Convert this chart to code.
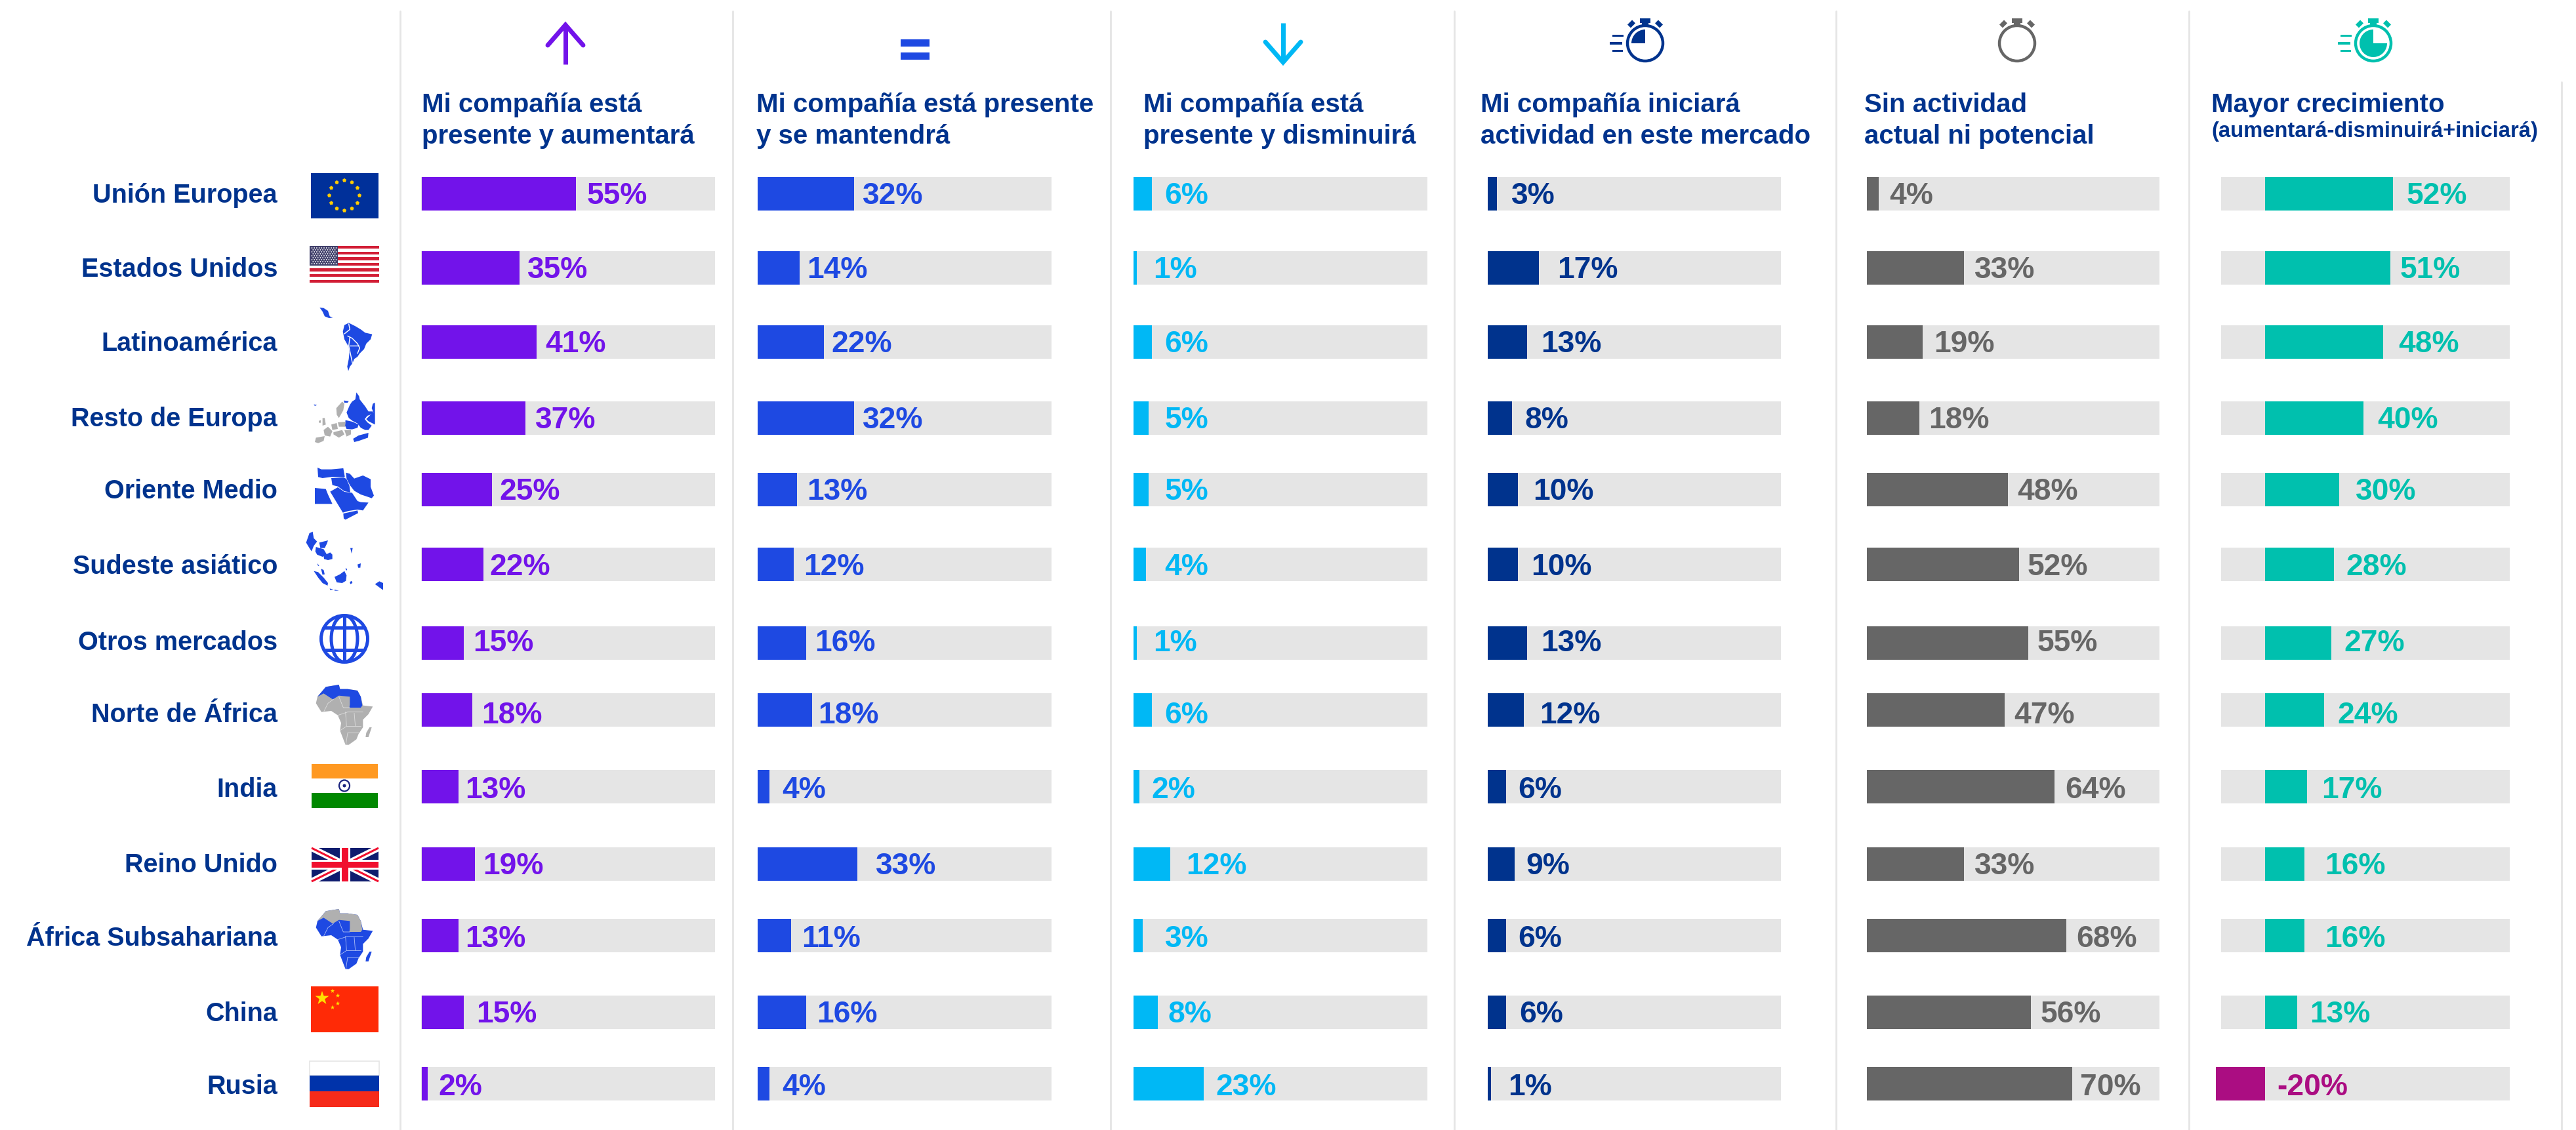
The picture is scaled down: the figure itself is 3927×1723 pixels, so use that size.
import numpy as np, pandas as pd, seaborn as sns, matplotlib
matplotlib.use("Agg")
import matplotlib.pyplot as plt
from matplotlib.patches import Rectangle, Polygon, Circle, Wedge, Ellipse, RegularPolygon
from matplotlib.lines import Line2D

# ---------- data ----------
regions = ["Unión Europea","Estados Unidos","Latinoamérica","Resto de Europa","Oriente Medio",
           "Sudeste asiático","Otros mercados","Norte de África","India","Reino Unido",
           "África Subsahariana","China","Rusia"]
aumentara  = [55,35,41,37,25,22,15,18,13,19,13,15,2]
mantendra  = [32,14,22,32,13,12,16,18,4,33,11,16,4]
disminuira = [6,1,6,5,5,4,1,6,2,12,3,8,23]
iniciara   = [3,17,13,8,10,10,13,12,6,9,6,6,1]
sin_activ  = [4,33,19,18,48,52,55,47,64,33,68,56,70]
crecim     = [52,51,48,40,30,28,27,24,17,16,16,13,-20]
headers = [["Mi compañía está","presente y aumentará"],
           ["Mi compañía está presente","y se mantendrá"],
           ["Mi compañía está","presente y disminuirá"],
           ["Mi compañía iniciará","actividad en este mercado"],
           ["Sin actividad","actual ni potencial"],
           ["Mayor crecimiento","(aumentará-disminuirá+iniciará)"]]

# ---------- layout (pixels) ----------
W, H = 3927, 1724
PURPLE, BLUE, CYAN, NAVY, GRAY, TEAL, MAGENTA = "#7213EA","#1E49E2","#00B8F5","#00338D","#666666","#00C0AE","#AB0D82"
TRACK, RULE = "#E5E5E5", "#E5E5E5"
bar_tops = [271,384,497,613,722,836,956,1058,1175,1293,1402,1519,1628]
row_pos = [t + 25.5 for t in bar_tops]
label_y = [295,408,521,637,746,861,977,1087,1201,1317,1428,1543,1654]
row_label_y = [295,408,521,636,746,861,977,1087,1201,1316,1428,1543,1654]
columns = [
    dict(vals=aumentara,  color=PURPLE, zero=643,  left=642,  right=1090, px=4.27, head_x=643),
    dict(vals=mantendra,  color=BLUE,   zero=1155, left=1155, right=1603, px=4.6,  head_x=1153),
    dict(vals=disminuira, color=CYAN,   zero=1728, left=1728, right=2176, px=4.65, head_x=1743),
    dict(vals=iniciara,   color=NAVY,   zero=2268, left=2268, right=2715, px=4.6,  head_x=2257),
    dict(vals=sin_activ,  color=GRAY,   zero=2846, left=2846, right=3292, px=4.47, head_x=2842),
    dict(vals=crecim,     color=TEAL,   zero=3453, left=3386, right=3826, px=3.75, head_x=3371),
]
label_lefts = [
    [357,321,332,326,304,298,288,293,283,294,283,290,267],
    [525,491,506,525,491,489,496,498,476,533,488,497,476],
    [709,702,709,709,709,709,702,709,701,722,709,711,740],
    [920,948,938,928,933,932,938,937,924,929,924,925,918],
    [1150,1202,1177,1174,1228,1234,1240,1226,1257,1202,1264,1242,1266],
    [1465,1461,1460,1447,1434,1428,1427,1423,1413,1415,1415,1406,1386],
]
sep_x = [610,1117,1693,2217,2799,3337]

sns.set_theme(style="white")
plt.rcParams["font.family"] = ["Liberation Sans","DejaVu Sans"]
fig = plt.figure(figsize=(W/100, H/100), dpi=100, facecolor="white")

def px_ax(l, r):
    return fig.add_axes([l/W, 0, (r-l)/W, 1])

# ---------- bars ----------
for c in columns:
    l, r = c["left"]-10, c["right"]+10
    ax = px_ax(l, r)
    ax.barh(row_pos, [(c["right"]-c["left"])/c["px"]]*13,
            left=(c["left"]-c["zero"])/c["px"], height=51, color=TRACK, zorder=0.5, lw=0)
    df = pd.DataFrame({"valor": c["vals"], "y": row_pos,
                       "signo": ["neg" if v < 0 else "pos" for v in c["vals"]]})
    sns.barplot(data=df, x="valor", y="y", hue="signo", orient="y", native_scale=True, dodge=False,
                palette={"pos": c["color"], "neg": MAGENTA}, width=0.5, saturation=1,
                errorbar=None, legend=False, linewidth=0, ax=ax)
    ax.set_xlim((l-c["zero"])/c["px"], (r-c["zero"])/c["px"])
    ax.set_ylim(H, 0)
    ax.axis("off")

# ---------- overlay in pixels ----------
ov = fig.add_axes([0, 0, 1, 1], zorder=5)
ov.set_xlim(0, W); ov.set_ylim(H, 0); ov.axis("off"); ov.patch.set_alpha(0)

for i, x in enumerate(sep_x):
    ov.add_line(Line2D([x, x], [18, H], color=RULE, lw=2.0))
ov.add_line(Line2D([3905, 3905], [126, H], color=RULE, lw=2.0))

VAL_FS, ROW_FS, HEAD_FS = 33.3, 28.5, 29
for name, y in zip(regions, row_label_y):
    ov.text(423, y+14, name, ha="right", va="baseline", color=NAVY, fontsize=ROW_FS, fontweight="bold")

for c, lefts in zip(columns, label_lefts):
    for v, lx, y in zip(c["vals"], lefts, label_y):
        col = MAGENTA if v < 0 else c["color"]
        ov.text(lx*3927/1568, y+16, f"{v}%", ha="left", va="baseline", color=col, fontsize=VAL_FS, fontweight="bold")

for c, (a, b) in zip(columns, headers):
    ov.text(c["head_x"], 171, a, ha="left", va="baseline", color=NAVY, fontsize=HEAD_FS, fontweight="bold")
    if b.startswith("("):
        ov.text(c["head_x"], 209, b, ha="left", va="baseline", color=NAVY, fontsize=23.6, fontweight="bold")
    else:
        ov.text(c["head_x"], 219, b, ha="left", va="baseline", color=NAVY, fontsize=HEAD_FS, fontweight="bold")

# ---------- header icons ----------
def rect(x0, y0, x1, y1, color, z=6):
    ov.add_patch(Rectangle((x0, y0), x1-x0, y1-y0, fc=color, ec="none", zorder=z))
def arrow(cx, tip, tail, head, color):
    ov.add_line(Line2D([cx, cx], [tip+4, tail], color=color, lw=5, solid_capstyle="butt"))
    ov.add_line(Line2D([cx-27, cx, cx+27], [head, tip+3, head] , color=color, lw=5, solid_joinstyle="miter"))
arrow(862, 36, 99, 70, PURPLE)
rect(1373, 61, 1417, 72, BLUE); rect(1373, 81, 1417, 92, BLUE)
ov.add_line(Line2D([1956, 1956], [36, 95], color=CYAN, lw=5, solid_capstyle="butt"))
ov.add_line(Line2D([1929, 1956, 1983], [65, 96, 65], color=CYAN, lw=5, solid_joinstyle="miter"))

def stopwatch(cx, cy, color, lines=True, wedge=None):
    ov.add_patch(Circle((cx, cy), 27, fc="white", ec=color, lw=3.2, zorder=6))
    rect(cx-8, 29, cx+8, 36, color, 7); rect(cx-5, 35, cx+5, 41, color, 7)
    for s in (-1, 1):
        ov.add_patch(Rectangle((cx+s*21-5, cy-29-4), 10, 7, angle=s*45, rotation_point="center",
                               fc=color, ec="none", zorder=7))
    if lines:
        rect(cx-50, cy-13, cx-33, cy-10, color, 7)
        rect(cx-54, cy-2, cx-35, cy+2, color, 7)
        rect(cx-50, cy+10, cx-34, cy+13, color, 7)
    if wedge:
        ov.add_patch(Wedge((cx, cy), wedge[2], wedge[0], wedge[1], fc=color, ec="none", zorder=7))
stopwatch(2508, 67, NAVY, True, (180, 270, 21))
stopwatch(3075, 67, GRAY, False)
stopwatch(3618, 67, TEAL, True, (0, 270, 21))
# image y axis points down, so wedge angles above are mirrored

# ---------- flags ----------
# EU
rect(474, 265, 577, 334, "#00309A")
for k in range(12):
    a = 2*np.pi*k/12
    ov.add_patch(RegularPolygon((525+23*np.sin(a), 299-23*np.cos(a)), 5, radius=3.2, fc="#FFCC00", ec="none", zorder=7, orientation=np.pi))
# USA
for k in range(13):
    y0 = 376 + k*56/13
    rect(472, y0, 578, y0+56/13, "#D21E36" if k % 2 == 0 else "white")
rect(472, 376, 515, 406, "#41406B", 7)
for r_ in range(9):
    for q in range(11 if r_ % 2 == 0 else 10):
        ov.add_patch(Circle((475.5 + q*3.7 + (0 if r_ % 2 == 0 else 1.8), 379 + r_*3), 0.9, fc="white", ec="none", zorder=8))
# India
rect(475, 1166, 576, 1188, "#FF9922"); rect(475, 1210, 576, 1233, "#008800")
ov.add_patch(Ellipse((525, 1199), 16, 17, fc="white", ec="#1A237E", lw=1.6, zorder=7))
ov.add_patch(Circle((525, 1199), 2.5, fc="#1A237E", ec="none", zorder=7))
# UK
rect(475, 1294, 577, 1345, "#0F1C6E")
ov.plot([475, 577], [1294, 1345], color="white", lw=7, zorder=7, solid_capstyle="butt")
ov.plot([475, 577], [1345, 1294], color="white", lw=7, zorder=7, solid_capstyle="butt")
ov.plot([475, 577], [1294, 1345], color="#F00F2E", lw=2.2, zorder=7, solid_capstyle="butt")
ov.plot([475, 577], [1345, 1294], color="#F00F2E", lw=2.2, zorder=7, solid_capstyle="butt")
rect(518, 1294, 534, 1345, "white", 8); rect(475, 1312, 577, 1327, "white", 8)
rect(521, 1294, 531, 1345, "#F00F2E", 9); rect(475, 1315, 577, 1324, "#F00F2E", 9)
# China
rect(474, 1505, 577, 1575, "#FF2A06")
def star(x, y, r_):
    ov.add_patch(Polygon([(x + (r_ if k % 2 == 0 else r_*0.4)*np.sin(k*np.pi/5),
                           y - (r_ if k % 2 == 0 else r_*0.4)*np.cos(k*np.pi/5)) for k in range(10)],
                         fc="#FFE000", ec="none", zorder=7))
star(491, 1523, 11)
for sx, sy in [(507, 1512), (515, 1519), (515, 1531), (507, 1537)]:
    star(sx, sy, 3.5)
# Russia
ov.add_patch(Rectangle((472, 1619), 106, 22, fc="white", ec="#E5E5E5", lw=1.2, zorder=6))
rect(472, 1641, 578, 1665, "#0033AA"); rect(472, 1665, 578, 1689, "#F62B1A")

# ---------- map pictograms (rough silhouettes) ----------
def shape(ox, oy, pts, color, dy=0):
    ov.add_patch(Polygon([(ox+a/3, oy+b/3+dy) for a, b in pts], fc=color, ec="none", zorder=6))
def border(ox, oy, pts, dy=0, lw=1.4, color="white"):
    ov.plot([ox+a/3 for a, b in pts], [oy+b/3+dy for a, b in pts], color=color, lw=lw, zorder=7)

MAPGRAY = "#B0B0B0"
# Latin America
O = (450, 460)
shape(*O, [(112,30),(130,32),(150,45),(158,70),(172,76),(155,78),(135,70),(125,48)], BLUE)
shape(*O, [(225,110),(245,100),(275,115),(300,130),(320,145),(352,152),(345,175),(325,195),(315,220),(295,240),(285,255),
           (270,265),(262,285),(250,300),(243,320),(238,300),(245,265),(248,235),(245,210),(225,175),(218,140)], BLUE)
border(*O, [(225,150),(250,130),(245,105)], lw=1.0); border(*O, [(240,160),(260,170),(285,195),(295,215),(285,240)], lw=1.0)
border(*O, [(250,205),(275,205),(290,205)], lw=1.0); border(*O, [(250,165),(245,205),(262,285)], lw=1.0)
# Rest of Europe
shape(*O, [(280,418),(292,435),(295,450),(320,482),(335,505),(355,505),(358,515),(330,525),(318,540),(330,555),(350,570),(335,590),
           (320,590),(300,580),(285,560),(262,548),(245,535),(235,510),(250,475),(260,460),(275,450)], BLUE)
shape(*O, [(355,470),(365,465),(365,565),(335,550),(325,540),(345,520),(358,510),(350,490)], BLUE)
shape(*O, [(230,545),(262,552),(290,565),(285,580),(260,587),(235,585),(228,570)], BLUE)
shape(*O, [(265,630),(290,615),(335,603),(333,625),(290,640),(270,645)], BLUE)
shape(*O, [(85,473),(100,475),(90,480)], BLUE)
shape(*O, [(222,455),(245,458),(240,465),(225,465)], BLUE)
for p in [[(215,460),(225,470),(220,500),(200,535),(190,520),(188,490)],
          [(130,590),(150,575),(170,595),(160,620),(135,615)],
          [(95,625),(135,618),(130,640),(105,650),(90,645)],
          [(165,565),(190,558),(195,585),(170,590)],
          [(195,555),(230,552),(228,575),(200,575)],
          [(175,600),(215,590),(225,610),(200,625),(175,610)],
          [(225,590),(255,590),(255,610),(235,620)],
          [(125,535),(135,535),(140,565),(125,570)],
          [(108,548),(118,545),(116,558),(108,556)]]:
    shape(*O, p, MAPGRAY)
# Middle East
O = (450, 690)
for p in [[(102,72),(120,80),(165,80),(220,75),(227,114),(170,114),(125,120),(105,115)],
          [(232,95),(250,100),(270,122),(310,108),(345,125),(345,160),(360,200),(350,212),(330,205),(300,195),(270,178),(250,152),(235,122)],
          [(165,120),(222,116),(235,125),(248,155),(252,185),(225,180),(195,158),(170,152)],
          [(90,165),(140,170),(150,195),(170,238),(90,238)],
          [(160,182),(195,162),(225,183),(260,187),(285,225),(300,230),(335,232),(310,268),(285,264),(245,270),(218,278),(195,240)],
          [(220,282),(285,268),(288,280),(230,310),(222,305)]]:
    shape(*O, p, BLUE)
# South-East Asia
for p in [[(50,415),(65,372),(80,365),(85,395),(100,410),(85,430),(75,455),(65,440)],
          [(110,415),(150,405),(145,420),(135,440),(115,440)],
          [(95,435),(130,445),(145,470),(125,480),(100,470),(92,455)],
          [(130,475),(160,460),(170,470),(170,490),(150,495),(132,490)],
          [(252,440),(263,440),(258,465)], [(285,515),(300,510),(298,530),(288,530)],
          [(100,510),(110,520),(105,522)], [(118,535),(130,540),(135,560),(125,562)],
          [(85,545),(105,550),(130,575),(150,600),(148,612),(125,600),(105,575)],
          [(180,572),(205,560),(225,545),(235,565),(232,590),(215,600),(190,597)],
          [(158,625),(175,630),(160,632)], [(180,630),(200,635),(180,635)],
          [(365,605),(385,592),(402,600),(402,632),(385,620)],
          [(250,595),(258,590),(262,600),(252,605)], [(228,535),(237,535),(237,542)]]:
    shape(*O, p, BLUE)
# Globe
gc = (525, 975)
ov.add_patch(Circle(gc, 35.5, fc="none", ec=BLUE, lw=3.6, zorder=6))
clip = Circle(gc, 37, transform=ov.transData)
for art in [ov.add_patch(Ellipse(gc, 40, 71, fc="none", ec=BLUE, lw=3.6, zorder=6)),
            ov.add_patch(Rectangle((gc[0]-2.5, gc[1]-37), 5, 74, fc=BLUE, ec="none", zorder=6)),
            ov.add_patch(Rectangle((gc[0]-37, gc[1]-17-2.5), 74, 5, fc=BLUE, ec="none", zorder=6)),
            ov.add_patch(Rectangle((gc[0]-37, gc[1]+17-2.5), 74, 5, fc=BLUE, ec="none", zorder=6))]:
    art.set_clip_path(clip)
# Africa
AFR = [(102,100),(140,55),(200,45),(205,65),(240,65),(285,72),(300,100),(310,140),(355,145),(335,180),(310,205),(310,240),
       (290,270),(280,295),(245,320),(230,320),(205,255),(210,220),(195,185),(165,165),(120,170),(95,130)]
NORTH = [(102,100),(140,55),(200,45),(205,65),(240,65),(285,72),(300,100),(307,140),(300,150),(248,150),(250,135),(250,100),(200,95),(172,112),(130,85)]
MADA = [(340,240),(350,240),(335,285),(322,285),(325,265)]
BORD = [[(130,170),(150,130),(175,112)], [(195,185),(240,170),(310,170)], [(230,170),(235,235),(205,255)],
        [(235,235),(300,235)], [(270,175),(275,235)], [(240,265),(295,265)], [(240,265),(232,318)], [(200,100),(220,150),(250,150)]]
O = (450, 1030)
shape(*O, AFR, MAPGRAY); shape(*O, NORTH, BLUE); shape(*O, MADA, MAPGRAY)
for b in BORD:
    border(*O, b, lw=0.6, color="#DDDDDD")
shape(*O, AFR, BLUE, dy=342); shape(*O, NORTH, MAPGRAY, dy=342); shape(*O, MADA, BLUE, dy=342)
for b in BORD:
    border(*O, b, dy=342, lw=0.6, color="#AFC0F5")

fig.savefig("out.png", dpi=100, facecolor="white")
